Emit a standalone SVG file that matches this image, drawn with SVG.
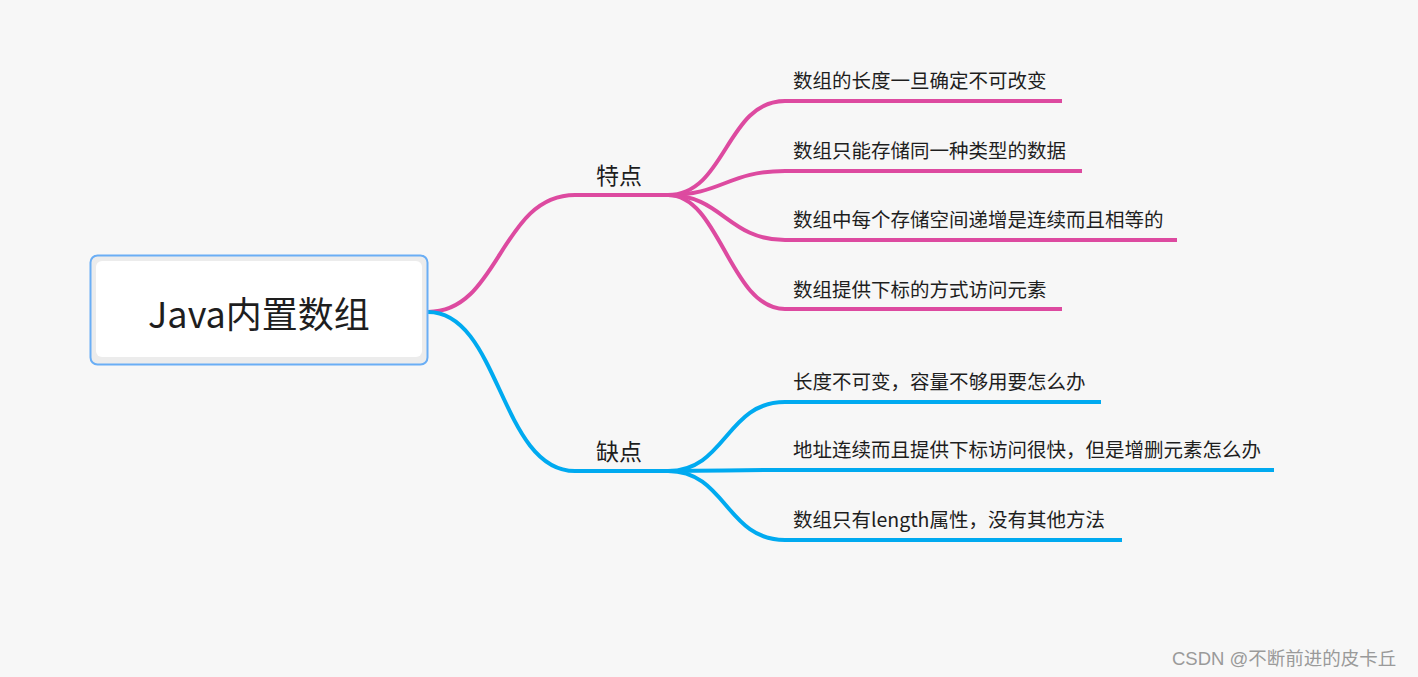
<svg xmlns="http://www.w3.org/2000/svg" width="1418" height="677" viewBox="0 0 1418 677">
<style>
.pk{fill:none;stroke:#dd4aa0;stroke-width:4;stroke-linecap:butt}
.bl{fill:none;stroke:#00aaf0;stroke-width:4;stroke-linecap:butt}
.t{font-family:"Microsoft YaHei","Noto Sans CJK SC","Noto Sans",sans-serif;fill:#1e1e1e}
.leaf{font-size:19.5px}
.br{font-size:23px}
</style>
<rect x="0" y="0" width="1418" height="677" fill="#f7f7f7"/>
<g id="connectors">
<path class="pk" d="M428,312 C500,312 500,195 575,195 L670,195"/>
<path class="bl" d="M428,312 C500,312 500,471 575,471 L670,471"/>
<path class="pk" d="M668,195 C726,195 726,101 785,101 L1062,101"/>
<path class="pk" d="M668,195 C722,195 728,171 785,171 L1082,171"/>
<path class="pk" d="M668,195 C722,195 728,240 785,240 L1177,240"/>
<path class="pk" d="M668,195 C720,195 730,309 785,309 L1062,309"/>
<path class="bl" d="M668,471 C726,471 726,402 785,402 L1101,402"/>
<path class="bl" d="M668,471 C722,471 728,470 785,470 L1274,470"/>
<path class="bl" d="M668,471 C726,471 726,540 785,540 L1122,540"/>
</g>
<g id="root">
<rect x="90.5" y="255.5" width="337" height="109" rx="7" fill="#ececec" stroke="#6aaef5" stroke-width="2"/>
<rect x="96" y="261" width="326" height="96" rx="6" fill="#ffffff"/>
<text class="t" x="259" y="328" font-size="36" text-anchor="middle" fill="#2b2f3a">Java内置数组</text>
</g>
<g id="branch-tedian"><text class="t br" x="596" y="184">特点</text></g>
<g id="branch-quedian"><text class="t br" x="596" y="460">缺点</text></g>
<g id="leaf-p1"><text class="t leaf" x="793" y="88">数组的长度一旦确定不可改变</text></g>
<g id="leaf-p2"><text class="t leaf" x="793" y="158">数组只能存储同一种类型的数据</text></g>
<g id="leaf-p3"><text class="t leaf" x="793" y="227">数组中每个存储空间递增是连续而且相等的</text></g>
<g id="leaf-p4"><text class="t leaf" x="793" y="297">数组提供下标的方式访问元素</text></g>
<g id="leaf-b1"><text class="t leaf" x="793" y="389">长度不可变，容量不够用要怎么办</text></g>
<g id="leaf-b2"><text class="t leaf" x="793" y="457">地址连续而且提供下标访问很快，但是增删元素怎么办</text></g>
<g id="leaf-b3"><text class="t leaf" x="793" y="527">数组只有length属性，没有其他方法</text></g>
<text x="1172" y="665" font-family="'Liberation Sans','Noto Sans CJK SC',sans-serif" font-size="18.5" fill="#9a9a9a">CSDN @不断前进的皮卡丘</text>
</svg>
